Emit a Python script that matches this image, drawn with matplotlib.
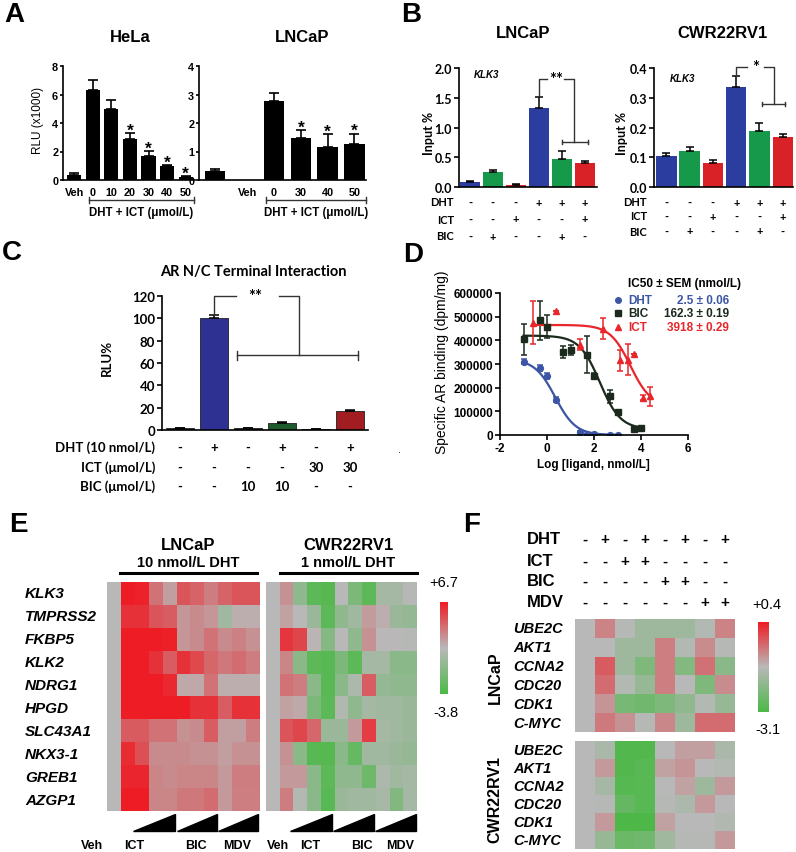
import numpy as np
import matplotlib.pyplot as plt
import matplotlib.transforms as mtransforms
from matplotlib.colors import LinearSegmentedColormap
from matplotlib.lines import Line2D
from matplotlib.patches import Polygon

W, H = 796, 853
ARIAL = ['Liberation Sans', 'DejaVu Sans']
NARROW = ['Liberation Sans Narrow', 'Liberation Sans', 'DejaVu Sans']
CALIBRI = ['Lato', 'DejaVu Sans']

# panel A: luciferase, DHT + ICT
hela_labels = ['Veh', '0', '10', '20', '30', '40', '50']
hela_vals = [0.35, 6.35, 5.0, 2.85, 1.7, 0.95, 0.2]
hela_err = [0.15, 0.65, 0.6, 0.45, 0.32, 0.12, 0.05]
hela_star = [0, 0, 0, 1, 1, 1, 1]
lnc_a_labels = ['Veh', '0', '30', '40', '50']
lnc_a_vals = [0.3, 2.78, 1.48, 1.15, 1.25]
lnc_a_err = [0.1, 0.27, 0.27, 0.45, 0.38]
lnc_a_star = [0, 0, 1, 1, 1]

# panel B: ChIP KLK3
b_dht = ['-', '-', '-', '+', '+', '+']
b_ict = ['-', '-', '+', '-', '-', '+']
b_bic = ['-', '+', '-', '-', '+', '-']
b_lnc_vals = [0.09, 0.25, 0.04, 1.32, 0.47, 0.41]
b_lnc_err = [0.01, 0.03, 0.01, 0.19, 0.14, 0.03]
b_cwr_vals = [0.105, 0.12, 0.08, 0.337, 0.188, 0.168]
b_cwr_err = [0.01, 0.016, 0.012, 0.035, 0.028, 0.01]

# panel C: AR N/C interaction
c_vals = [1.5, 100, 1.5, 6.5, 1.0, 17]
c_err = [0.3, 3, 0.3, 1.0, 0.3, 0.6]
c_dht = ['-', '+', '-', '+', '-', '+']
c_ict = ['-', '-', '-', '-', '30', '30']
c_bic = ['-', '-', '10', '10', '-', '-']

# panel D: competitive binding
dht_x = [-1.0, -0.3, 0.0, 0.4, 1.4, 1.7, 2.0, 2.7, 3.0]
dht_y = [310000, 282000, 248000, 150000, 12000, 3000, 3000, 2000, 2000]
dht_e = [12000, 12000, 12000, 10000, 3000, 0, 0, 0, 0]
bic_x = [-1.0, -0.3, 0.0, 0.7, 1.0, 1.7, 2.0, 2.7, 3.0, 3.7, 4.0]
bic_y = [405000, 485000, 458000, 350000, 360000, 340000, 250000, 163000, 97000, 24000, 28000]
bic_e = [66000, 82000, 50000, 25000, 20000, 78000, 12000, 28000, 5000, 0, 0]
ict_x = [-0.6, 0.4, 1.4, 2.4, 3.1, 3.45, 3.7, 4.1, 4.4]
ict_y = [475000, 522000, 382000, 450000, 315000, 318000, 343000, 158000, 163000]
ict_e = [90000, 0, 22000, 45000, 45000, 65000, 0, 10000, 40000]
# 4PL fit: top, bottom, logIC50, hill
dht_fit = (320000, 0, 0.35, 1.0)
bic_fit = (420000, 25000, 2.25, 1.0)
ict_fit = (465000, 120000, 3.55, 1.0)

# panel E: heatmaps
e_genes = ['KLK3', 'TMPRSS2', 'FKBP5', 'KLK2', 'NDRG1', 'HPGD', 'SLC43A1', 'NKX3-1', 'GREB1', 'AZGP1']
e_lncap = [
    [1.45, 6.7, 6.5, 3.8, 2.3, 4.8, 4.3, 3.5, 4.3, 4.8, 4.8],
    [1.45, 6.0, 6.0, 4.8, 4.5, 2.6, 3.0, 2.6, 0.3, 1.8, 1.8],
    [1.45, 6.7, 6.7, 6.7, 6.6, 2.6, 3.0, 3.8, 3.0, 3.3, 2.8],
    [1.45, 6.7, 6.7, 6.0, 4.5, 6.0, 5.2, 4.2, 3.6, 4.0, 3.5],
    [1.45, 6.7, 6.7, 6.7, 6.3, 2.0, 2.0, 3.8, 1.8, 1.8, 1.8],
    [1.45, 6.7, 6.7, 6.7, 6.7, 6.7, 6.0, 6.0, 4.5, 6.0, 6.0],
    [1.45, 4.6, 4.6, 3.8, 3.8, 2.8, 3.0, 4.5, 2.3, 2.3, 3.5],
    [1.45, 6.2, 5.0, 3.0, 3.0, 3.0, 2.8, 2.8, 2.3, 2.8, 2.8],
    [1.45, 6.4, 6.4, 3.2, 3.0, 3.2, 3.2, 3.2, 2.5, 3.5, 3.5],
    [1.45, 6.7, 6.7, 3.2, 3.2, 3.6, 3.6, 4.0, 2.5, 3.4, 3.4],
]
e_cwr = [
    [1.45, 2.8, -0.5, -3.0, -3.3, 1.45, -1.5, -3.0, 0.5, 0.5, 1.3],
    [1.45, 2.2, 1.4, 0.0, -3.0, -0.5, 0.3, 2.4, 1.8, 0.0, -0.3],
    [1.45, 5.8, 5.3, 1.6, -1.0, 1.4, -0.5, 2.8, 1.5, 1.5, 1.3],
    [1.45, 3.2, -0.8, -3.0, -3.2, -1.5, -3.0, 0.5, 0.5, -0.8, -0.8],
    [1.45, 3.8, 3.5, -0.8, -3.2, -0.8, 0.8, 4.5, -0.3, -0.5, -0.5],
    [1.45, 2.2, 2.0, -1.5, -3.0, 1.0, -0.5, 0.5, 0.3, 0.3, 0.0],
    [1.45, 4.8, 5.3, 4.2, 0.0, 0.0, 2.5, 5.6, 0.5, 0.3, 0.0],
    [1.45, 2.8, -0.8, -3.2, -3.3, -0.8, -2.5, 0.3, 0.3, 0.0, -0.3],
    [1.45, 2.5, 2.5, -0.8, -3.0, -0.5, -0.5, -2.2, 0.8, 0.3, 0.5],
    [1.45, 3.5, 1.2, -0.8, -3.2, 0.0, 0.3, 0.3, 0.6, -1.2, 0.5],
]
e_range = (-3.8, 6.7)

# panel F: heatmaps
f_genes = ['UBE2C', 'AKT1', 'CCNA2', 'CDC20', 'CDK1', 'C-MYC']
f_dht = ['-', '+', '-', '+', '-', '+', '-', '+']
f_ict = ['-', '-', '+', '+', '-', '-', '-', '-']
f_bic = ['-', '-', '-', '-', '+', '+', '-', '-']
f_mdv = ['-', '-', '-', '-', '-', '-', '+', '+']
f_lncap = [
    [-1.35, -0.75, -1.4, -1.8, -1.8, -1.8, -1.45, -0.75],
    [-1.35, -1.35, -1.8, -1.8, -0.7, -1.45, -0.85, -1.4],
    [-1.35, -0.3, -1.8, -2.3, -0.7, -2.2, -0.55, -2.1],
    [-1.35, -0.5, -1.45, -1.9, -0.7, -1.35, -2.3, -0.85],
    [-1.35, -0.95, -2.4, -2.5, -2.3, -2.0, -1.45, -1.9],
    [-1.35, -0.65, -0.9, -1.4, -0.8, -1.8, -0.5, -0.5],
]
f_cwr = [
    [-1.35, -1.6, -3.0, -3.0, -1.35, -1.05, -1.05, -1.6],
    [-1.35, -1.0, -3.0, -2.9, -1.1, -0.95, -1.35, -1.45],
    [-1.35, -1.65, -2.95, -2.9, -1.35, -1.1, -1.8, -1.0],
    [-1.35, -1.4, -2.7, -2.9, -1.4, -1.55, -1.0, -1.35],
    [-1.35, -1.0, -3.1, -3.1, -1.1, -1.35, -1.35, -1.5],
    [-1.35, -1.9, -2.6, -2.5, -1.75, -1.4, -1.4, -1.0],
]
f_range = (-3.1, 0.4)

plt.rcParams['font.family'] = ARIAL
plt.rcParams['axes.linewidth'] = 1.2
plt.rcParams['xtick.major.width'] = 1.2
plt.rcParams['ytick.major.width'] = 1.2

fig = plt.figure(figsize=(W / 100, H / 100), dpi=100)
cmap = LinearSegmentedColormap.from_list('gr', ['#4db848', '#b9b9b9', '#ee1d25'])


def box(l, t, r, b):
    return [l / W, 1 - b / H, (r - l) / W, (b - t) / H]


def ftext(x, y, s, **kw):
    kw.setdefault('ha', 'center')
    kw.setdefault('va', 'center')
    return fig.text(x / W, 1 - y / H, s, **kw)


def fline(xs, ys, **kw):
    kw.setdefault('color', 'black')
    kw.setdefault('lw', 1.2)
    fig.add_artist(Line2D([x / W for x in xs], [1 - y / H for y in ys], transform=fig.transFigure, **kw))


def clean(ax):
    ax.spines['top'].set_visible(False)
    ax.spines['right'].set_visible(False)
    ax.tick_params(axis='y', direction='out', length=3.5, pad=1.5)
    ax.tick_params(axis='x', length=0)


def row_table(ax, ys, rows, names, right, family, size):
    tr = mtransforms.blended_transform_factory(ax.transData, fig.transFigure)
    for y, row, name in zip(ys, rows, names):
        ftext(right, y, name, ha='right', family=family, fontsize=size, fontweight='bold')
        for i, s in enumerate(row):
            ax.text(i, 1 - y / H, s, transform=tr, ha='center', va='center',
                    family=family, fontsize=size, fontweight='bold', clip_on=False)


# ---------------- A ----------------
def draw_a(rect, labels, vals, err, stars, xpos, lpos, xlim, ymax, step, title, tx, br):
    ax = fig.add_axes(box(*rect))
    clean(ax)
    ax.tick_params(axis='y', length=2.5, pad=1)
    ax.bar(xpos, vals, width=0.76, color='black')
    ax.errorbar(xpos, vals, yerr=[[0] * len(err), err], fmt='none', ecolor='black',
                elinewidth=1.2, capsize=3.5, capthick=1.2)
    for x, v, e, s in zip(xpos, vals, err, stars):
        if s:
            ax.annotate('*', (x, v + e), xytext=(0, -1.2), textcoords='offset points',
                        ha='center', va='baseline', fontsize=12.5, fontweight='bold')
    ax.set_xlim(*xlim)
    ax.set_ylim(0, ymax)
    ticks = np.arange(0, ymax + 0.001, step)
    ax.set_yticks(ticks)
    ax.set_yticklabels([f'{t:g}' for t in ticks], fontweight='bold', fontsize=7.8)
    ax.set_xticks(lpos)
    ax.set_xticklabels(labels, fontweight='bold', fontsize=7.8)
    ax.tick_params(axis='x', pad=5)
    ftext(tx, 38, title, fontsize=12, fontweight='bold')
    l, r = br
    fline([l, r], [201, 201], color='#333333', lw=1)
    fline([l, l], [198, 204], color='#333333', lw=1)
    fline([r, r], [198, 204], color='#333333', lw=1)
    ftext((l + r) / 2, 213, 'DHT + ICT (μmol/L)', fontsize=8.3, fontweight='bold')
    return ax


draw_a((63, 67, 195, 181), hela_labels, hela_vals, hela_err, hela_star,
       list(range(7)), list(range(7)), (-0.6, 6.5), 8, 2, 'HeLa', 130, (89, 194))
ftext(38, 120, 'RLU (x1000)', rotation=90, family=NARROW, fontsize=8.5)
draw_a((199, 67, 366, 181), lnc_a_labels, lnc_a_vals, lnc_a_err, lnc_a_star,
       [0, 2.2, 3.2, 4.2, 5.2], [1.2, 2.2, 3.2, 4.2, 5.2], (-0.6, 5.63), 4, 1, 'LNCaP', 302, (266, 366))

# ---------------- B ----------------
b_colors = ['#2b3d9f', '#17994b', '#d92128'] * 2
b_sets = [
    dict(rect=(459, 69, 597, 188), vals=b_lnc_vals, err=b_lnc_err, ymax=2.0, step=0.5, xlim=(-0.48, 5.54),
         title='LNCaP', tx=523, ylx=429, gene=(487, 75), rows=(203, 220, 237), right=454,
         top=[(3, 1.53), (3, 1.82), (3.38, 1.82)], top2=[(4.12, 1.82), (4.52, 1.82), (4.52, 0.75)],
         star=('**', 3.76, 1.82), low=(4.0, 5.15, 0.75, 0.035)),
    dict(rect=(654, 69, 793, 188), vals=b_cwr_vals, err=b_cwr_err, ymax=0.4, step=0.1, xlim=(-0.53, 5.44),
         title='CWR22RV1', tx=723, ylx=622, gene=(683, 79), rows=(203, 217, 232), right=647,
         top=[(3, 0.374), (3, 0.405), (3.45, 0.405)], top2=[(4.2, 0.405), (4.62, 0.405), (4.62, 0.278)],
         star=('*', 3.82, 0.405), low=(4.1, 5.1, 0.278, 0.007)),
]
for s in b_sets:
    ax = fig.add_axes(box(*s['rect']))
    clean(ax)
    x = np.arange(6)
    ax.bar(x, s['vals'], width=0.88, color=b_colors)
    ax.errorbar(x, s['vals'], yerr=[[0] * 6, s['err']], fmt='none', ecolor='black',
                elinewidth=1.1, capsize=3, capthick=1.1)
    ax.set_xlim(*s['xlim'])
    ax.set_ylim(0, s['ymax'])
    ticks = np.arange(0, s['ymax'] + 1e-6, s['step'])
    ax.set_yticks(ticks)
    ax.set_yticklabels([f'{t:.1f}' for t in ticks], family=CALIBRI, fontweight='bold', fontsize=9)
    ax.set_xticks([])
    ftext(s['tx'], 33, s['title'], fontsize=12, fontweight='bold')
    ftext(s['ylx'], 133, 'Input %', rotation=90, family=CALIBRI, fontsize=9, fontweight='bold')
    ftext(s['gene'][0], s['gene'][1], 'KLK3', fontsize=7, fontweight='bold', style='italic')
    row_table(ax, s['rows'], [b_dht, b_ict, b_bic], ['DHT', 'ICT', 'BIC'], s['right'], CALIBRI, 8)
    for seg in (s['top'], s['top2']):
        ax.plot([p[0] for p in seg], [p[1] for p in seg], color='#333333', lw=1, clip_on=False)
    lbl, sx, sy = s['star']
    ax.text(sx, sy, lbl, ha='center', va='center', family=CALIBRI, fontsize=12, fontweight='bold', clip_on=False)
    l, r, y, d = s['low']
    ax.plot([l, r], [y, y], color='#333333', lw=1, clip_on=False)
    ax.plot([l, l], [y - d, y + d], color='#333333', lw=1)
    ax.plot([r, r], [y - d, y + d], color='#333333', lw=1)

# ---------------- C ----------------
ax = fig.add_axes(box(162, 297, 368, 431))
clean(ax)
x = np.arange(6)
c_colors = ['#151515', '#2e3192', '#151515', '#1e5b2c', '#151515', '#a11d22']
ax.bar(x, c_vals, width=0.83, color=c_colors, edgecolor='#202020', lw=0.6)
ax.errorbar(x, c_vals, yerr=[[0] * 6, c_err], fmt='none', ecolor='black', elinewidth=1.1, capsize=3.5, capthick=1.1)
ax.set_xlim(-0.53, 5.53)
ax.set_ylim(0, 120)
ax.set_yticks(range(0, 121, 20))
ax.set_yticklabels([str(t) for t in range(0, 121, 20)], family=CALIBRI, fontweight='bold', fontsize=9.5)
ax.set_xticks([])
ax.plot([1, 1, 1.65], [103, 120, 120], color='#333333', lw=1, clip_on=False)
ax.plot([2.9, 3.5, 3.5], [120, 120, 67], color='#333333', lw=1, clip_on=False)
ax.text(2.2, 120, '**', ha='center', va='center', family=CALIBRI, fontsize=12, fontweight='bold', clip_on=False)
ax.plot([1.68, 5.24], [67, 67], color='#333333', lw=1)
ax.plot([1.68, 1.68], [63, 71], color='#333333', lw=1)
ax.plot([5.24, 5.24], [63, 71], color='#333333', lw=1)
ftext(253, 272, 'AR N/C Terminal Interaction', family=CALIBRI, fontsize=10.5, fontweight='bold')
ftext(107, 358, 'RLU%', rotation=90, family=CALIBRI, fontsize=9.5, fontweight='bold')
row_table(ax, (448, 468, 487), [c_dht, c_ict, c_bic],
          ['DHT (10 nmol/L)', 'ICT (μmol/L)', 'BIC (μmol/L)'], 155, CALIBRI, 9.5)
ftext(400, 450, '.', fontsize=8)

# ---------------- D ----------------
ax = fig.add_axes(box(500, 294, 688, 436))
clean(ax)
ax.tick_params(axis='x', direction='out', length=3.5, pad=1.5)
d_sets = [(dht_x, dht_y, dht_e, dht_fit, '#3c55a5', 'o', 4.2, -1.0, 3.0),
          (bic_x, bic_y, bic_e, bic_fit, '#1b2a1c', 's', 4.0, -1.0, 4.0),
          (ict_x, ict_y, ict_e, ict_fit, '#e8262b', '^', 4.5, -0.6, 4.4)]
for xs, ys, es, (top, bot, lic, hill), col, mk, ms, x0, x1 in d_sets:
    xx = np.linspace(x0, x1, 200)
    ax.plot(xx, bot + (top - bot) / (1 + 10 ** ((xx - lic) * hill)), color=col, lw=1.6)
    ax.errorbar(xs, ys, yerr=es, fmt=mk, color=col, ms=ms, elinewidth=1.1, capsize=2.5, capthick=1.1)
ax.set_xlim(-2, 6)
ax.set_ylim(0, 600000)
ax.set_xticks([-2, 0, 2, 4, 6])
ax.set_xticklabels(['-2', '0', '2', '4', '6'], fontweight='bold', fontsize=8.5)
ax.set_yticks(range(0, 600001, 100000))
ax.set_yticklabels([str(v) for v in range(0, 600001, 100000)], fontweight='bold', fontsize=8.5)
ftext(593, 465, 'Log [ligand, nmol/L]', fontsize=8.5, fontweight='bold')
ftext(442, 362, 'Specific AR binding (dpm/mg)', rotation=90, family=NARROW, fontsize=10)
ftext(684, 284, 'IC50 ± SEM (nmol/L)', fontsize=8.5, fontweight='bold')
for y, name, val, col, mk in [(301, 'DHT', '2.5 ± 0.06', '#3c55a5', 'o'),
                              (314, 'BIC', '162.3 ± 0.19', '#1b2a1c', 's'),
                              (328, 'ICT', '3918 ± 0.29', '#e8262b', '^')]:
    fig.add_artist(Line2D([618 / W], [1 - y / H], marker=mk, color=col, ms=4, transform=fig.transFigure))
    ftext(628, y, name, ha='left', color=col, fontsize=8.5, fontweight='bold')
    ftext(729, y, val, ha='right', color=col, fontsize=8.5, fontweight='bold')

# ---------------- E ----------------
for rect, data in [((107, 583, 260, 812), e_lncap), ((266, 583, 417, 812), e_cwr)]:
    ax = fig.add_axes(box(*rect))
    ax.imshow(np.array(data), cmap=cmap, vmin=e_range[0], vmax=e_range[1], aspect='auto', interpolation='nearest')
    ax.axis('off')
row_h = (812 - 583) / len(e_genes)
for i, g in enumerate(e_genes):
    ftext(25, 583 + (i + 0.5) * row_h, g, ha='left', fontsize=11, fontweight='bold', style='italic')
for cx, l, r, name, sub in [(188, 120, 257, 'LNCaP', '10 nmol/L DHT'), (348, 280, 417, 'CWR22RV1', '1 nmol/L DHT')]:
    ftext(cx, 545, name, fontsize=12, fontweight='bold')
    ftext(cx, 563, sub, fontsize=10.5, fontweight='bold')
    fline([l, r], [574, 574], lw=2.2)
for l, r in [(133, 175), (177, 217), (218, 258), (290, 332), (333, 374), (375, 416)]:
    fig.add_artist(Polygon([(l / W, 1 - 832 / H), (r / W, 1 - 832 / H), (r / W, 1 - 815 / H)],
                           closed=True, color='black', transform=fig.transFigure))
for x, t in [(92, 'Veh'), (134, 'ICT'), (196, 'BIC'), (237, 'MDV'),
             (278, 'Veh'), (310, 'ICT'), (362, 'BIC'), (400, 'MDV')]:
    ftext(x, 846, t, fontsize=9, fontweight='bold')
cax = fig.add_axes(box(440, 603, 448, 695))
cax.imshow(np.linspace(e_range[1], e_range[0], 100).reshape(-1, 1), cmap=cmap,
           vmin=e_range[0], vmax=e_range[1], aspect='auto')
cax.axis('off')
ftext(444, 583, '+6.7', fontsize=10.5)
ftext(446, 713, '-3.8', fontsize=10.5)

# ---------------- F ----------------
for rect, data in [((575, 620, 735, 733), f_lncap), ((575, 742, 735, 850), f_cwr)]:
    ax = fig.add_axes(box(*rect))
    ax.imshow(np.array(data), cmap=cmap, vmin=f_range[0], vmax=f_range[1], aspect='auto', interpolation='nearest')
    ax.axis('off')
    rh = (rect[3] - rect[1]) / len(f_genes)
    for i, g in enumerate(f_genes):
        ftext(513, rect[1] + (i + 0.5) * rh, g, ha='left', fontsize=10.5, fontweight='bold', style='italic')
for y, name, row in [(540, 'DHT', f_dht), (562, 'ICT', f_ict), (582, 'BIC', f_bic), (603, 'MDV', f_mdv)]:
    ftext(527, y, name, ha='left', fontsize=12, fontweight='bold')
    for j, s in enumerate(row):
        ftext(585 + j * 20, y, s, fontsize=11, fontweight='bold')
ftext(495, 678, 'LNCaP', rotation=90, fontsize=11.5, fontweight='bold')
ftext(495, 800, 'CWR22RV1', rotation=90, fontsize=11.5, fontweight='bold')
cax = fig.add_axes(box(758, 623, 769, 713))
cax.imshow(np.linspace(f_range[1], f_range[0], 100).reshape(-1, 1), cmap=cmap,
           vmin=f_range[0], vmax=f_range[1], aspect='auto')
cax.axis('off')
ftext(767, 605, '+0.4', fontsize=10.5)
ftext(768, 730, '-3.1', fontsize=10.5)

# panel letters
for x, y, t in [(14, 2, 'A'), (411, 2, 'B'), (12, 240, 'C'), (413, 242, 'D'), (18, 512, 'E'), (472, 512, 'F')]:
    ftext(x, y, t, va='top', fontsize=20, fontweight='bold')

fig.savefig('out.png', dpi=100, facecolor='white')
